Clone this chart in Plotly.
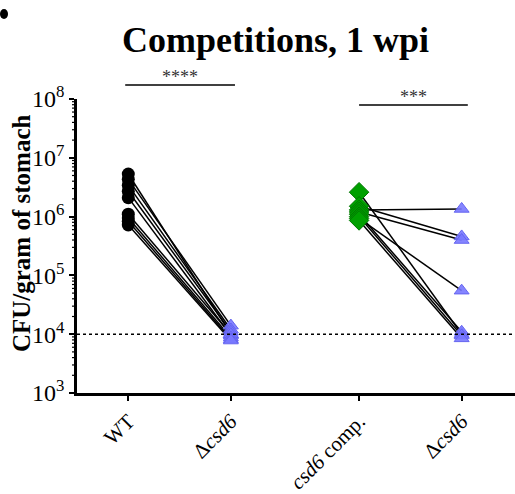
import plotly.graph_objects as go

# Categories and positions along the x axis
categories = ["WT", "Δ<i>csd6</i>", "<i>csd6</i> comp.", "Δ<i>csd6</i>"]
cat_pos = [1.0, 2.0, 3.25, 4.25]

# Competition 1: WT vs Δcsd6 (paired per mouse), CFU/g stomach
wt_vals = [5.3e6, 4.3e6, 3.4e6, 2.7e6, 2.1e6, 1.1e6, 9.5e5, 8.3e5, 7.2e5]
mut1_vals = [1.0e4, 1.4e4, 1.2e4, 1.1e4, 9.5e3, 1.0e4, 8.8e3, 8.2e3, 7.8e3]

# Competition 2: csd6 complemented vs Δcsd6
comp_vals = [2.6e6, 1.5e6, 1.3e6, 1.2e6, 1.1e6, 1.0e6, 9.3e5, 8.6e5]
mut2_vals = [1.0e4, 4.6e5, 1.35e6, 4.0e5, 1.1e4, 9.5e3, 5.5e4, 8.5e3]

detection_limit = 1e4
y_tickvals = [1e3, 1e4, 1e5, 1e6, 1e7, 1e8]
y_ticktext = ["10<sup>3</sup>", "10<sup>4</sup>", "10<sup>5</sup>", "10<sup>6</sup>",
              "10<sup>7</sup>", "10<sup>8</sup>"]
y_minor = [m * 10 ** e for e in range(3, 8) for m in range(2, 10)]

# Significance labels
sig_labels = ["****", "***"]

serif = "Liberation Serif, Times New Roman, serif"
tri_color = "rgba(120,120,255,0.9)"
tri_line = "rgb(100,100,240)"
green = "rgb(0,160,0)"
green_line = "rgb(0,120,0)"

PLOT_W = 438  # plot-area width in px, used to size tick marks in paper units

fig = go.Figure()

# Detection limit
fig.add_shape(type="line", xref="paper", yref="y", x0=0, x1=1,
              y0=detection_limit, y1=detection_limit,
              line=dict(color="black", width=1.5, dash="dot"))

# Minor log ticks on the y axis
for v in y_minor:
    fig.add_shape(type="line", xref="paper", yref="y", x0=-5 / PLOT_W, x1=0,
                  y0=v, y1=v, line=dict(color="black", width=1.2))

# Pair lines
for a, b in zip(wt_vals, mut1_vals):
    fig.add_trace(go.Scatter(x=[cat_pos[0], cat_pos[1]], y=[a, b], mode="lines",
                             line=dict(color="black", width=1.5), showlegend=False,
                             hoverinfo="skip"))
for a, b in zip(comp_vals, mut2_vals):
    fig.add_trace(go.Scatter(x=[cat_pos[2], cat_pos[3]], y=[a, b], mode="lines",
                             line=dict(color="black", width=1.5), showlegend=False,
                             hoverinfo="skip"))

# Markers
fig.add_trace(go.Scatter(x=[cat_pos[0]] * len(wt_vals), y=wt_vals, mode="markers",
                         marker=dict(symbol="circle", size=13, color="black"),
                         showlegend=False))
fig.add_trace(go.Scatter(x=[cat_pos[1]] * len(mut1_vals), y=mut1_vals, mode="markers",
                         marker=dict(symbol="triangle-up", size=13, color=tri_color,
                                     line=dict(color=tri_line, width=1)),
                         showlegend=False))
fig.add_trace(go.Scatter(x=[cat_pos[2]] * len(comp_vals), y=comp_vals, mode="markers",
                         marker=dict(symbol="diamond", size=15, color=green,
                                     line=dict(color=green_line, width=1)),
                         showlegend=False))
fig.add_trace(go.Scatter(x=[cat_pos[3]] * len(mut2_vals), y=mut2_vals, mode="markers",
                         marker=dict(symbol="triangle-up", size=13, color=tri_color,
                                     line=dict(color=tri_line, width=1)),
                         showlegend=False))

# Significance bars (paper y so they may sit above the plot area)
sig = [
    (cat_pos[0] - 0.03, cat_pos[1] + 0.04, 1.048, sig_labels[0]),
    (cat_pos[2], cat_pos[3] + 0.06, 0.980, sig_labels[1]),
]
for x0, x1, yv, lab in sig:
    fig.add_shape(type="line", xref="x", yref="paper", x0=x0, x1=x1, y0=yv, y1=yv,
                  line=dict(color="black", width=1.5))
    fig.add_annotation(x=(x0 + x1) / 2, y=yv, xref="x", yref="paper", text=lab,
                       showarrow=False, yanchor="bottom", yshift=-4,
                       font=dict(family=serif, size=18, color="#333"))

# Y-axis title
fig.add_annotation(x=-56 / PLOT_W, y=0.544, xref="paper", yref="paper",
                   text="<b>CFU/gram of stomach</b>", textangle=-90,
                   showarrow=False, xanchor="center", yanchor="middle",
                   font=dict(family=serif, size=25, color="black"))

# Cropped panel letter remnant
fig.add_shape(type="circle", xref="paper", yref="paper",
              x0=-77 / PLOT_W, x1=-69 / PLOT_W, y0=1 + 80 / 294, y1=1 + 90 / 294,
              fillcolor="black", line=dict(width=0))

fig.update_layout(
    width=515, height=494,
    margin=dict(l=77, r=0, t=99, b=101, autoexpand=False),
    paper_bgcolor="white", plot_bgcolor="white",
    title=dict(text="<b>Competitions, 1 wpi</b>", x=0.535, xanchor="center",
               y=0.92, yanchor="middle",
               font=dict(family=serif, size=36, color="black")),
    xaxis=dict(range=[0.5, 4.77], tickvals=cat_pos, ticktext=categories,
               tickangle=-45, showline=True, linecolor="black", linewidth=2.5,
               ticks="outside", ticklen=5, tickwidth=2, tickcolor="black",
               showgrid=False, zeroline=False, automargin=False,
               tickfont=dict(family=serif, size=21, color="black")),
    yaxis=dict(type="log", range=[3, 8], tickvals=y_tickvals, ticktext=y_ticktext,
               showline=True, linecolor="black", linewidth=2.5,
               ticks="outside", ticklen=5, tickwidth=2, tickcolor="black",
               showgrid=False, zeroline=False, automargin=False,
               tickfont=dict(family=serif, size=24, color="black")),
)

fig.write_html("out.html")
